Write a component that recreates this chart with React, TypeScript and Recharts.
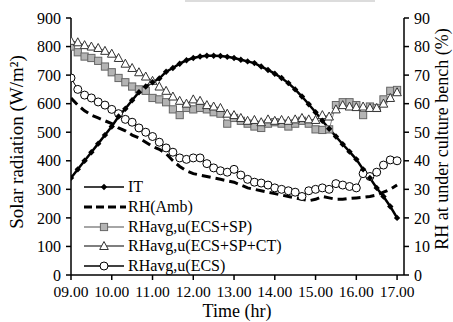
import React from 'react'
import { LineChart, Line, XAxis, YAxis } from 'recharts'

// sampling times (10 min)
const TIMES = [
  '09:00', '09:10', '09:20', '09:30', '09:40', '09:50',
  '10:00', '10:10', '10:20', '10:30', '10:40', '10:50',
  '11:00', '11:10', '11:20', '11:30', '11:40', '11:50',
  '12:00', '12:10', '12:20', '12:30', '12:40', '12:50',
  '13:00', '13:10', '13:20', '13:30', '13:40', '13:50',
  '14:00', '14:10', '14:20', '14:30', '14:40', '14:50',
  '15:00', '15:10', '15:20', '15:30', '15:40', '15:50',
  '16:00', '16:10', '16:20', '16:30', '16:40', '16:50',
  '17:00'
]

// solar radiation, W/m2
const IT = [
  340, 370, 400, 430, 460, 490, 520, 555, 582, 612, 640, 660,
  675, 688, 712, 725, 740, 752, 760, 765, 768, 768, 767, 764,
  760, 754, 748, 742, 730, 718, 705, 690, 672, 650, 625, 598,
  570, 540, 512, 485, 458, 432, 405, 370, 340, 305, 275, 240,
  200
]

// RH, %
const RH_AMB = [
  62, 59.5, 57.5, 56, 55, 54, 53, 51.5, 50.5, 49, 48, 46.5,
  45, 44, 42.5, 40, 38, 36.5, 35.5, 35, 34.5, 34, 33.5, 33,
  32.5, 31.5, 30.5, 30, 29.5, 29, 28.5, 28, 27.5, 27, 26.5, 26,
  26.5, 27.5, 27, 26.5, 26.5, 26.8, 27, 27.2, 27.5, 28, 29, 30,
  31.5
]

const RH_ECS_SP = [
  80, 78, 76.5, 76, 75, 73, 71, 69, 67.5, 66, 65, 64.5,
  62, 61.5, 60.5, 58, 56, 58.5, 58, 58.5, 58, 57, 56.5, 53,
  55, 54, 53, 52, 51.5, 53, 53.5, 53, 52, 53, 54, 53,
  51, 50.8, 51, 59.5, 60.5, 60.5, 59.5, 56, 59, 58.5, 61.5, 64.5,
  64.8
]

const RH_ECS_SP_CT = [
  82, 81.5, 80.5, 80, 79.5, 78.5, 77.5, 76, 74, 72.5, 71, 69.5,
  68, 66, 64.5, 62.5, 61, 60, 61.5, 61, 59.5, 59, 58.5, 56.5,
  56, 55, 54, 54.3, 53.5, 54.5, 54, 54.3, 54, 54.5, 55, 54.5,
  54.3, 56, 55.5, 58, 59.5, 59, 58.8, 59, 58.5, 58.5, 60, 62,
  64
]

const RH_ECS = [
  69, 65, 63, 62, 60.6, 59.5, 58, 56.5, 54.5, 53.5, 51.5, 50,
  48.5, 46.5, 44.5, 43, 41, 40.5, 41, 41, 39, 37.5, 36.5, 36,
  37, 35, 33.5, 32.5, 32.2, 31.5, 30.5, 30, 29.5, 29, 27.5, 29.5,
  30, 30.5, 30, 32, 31.5, 31, 30.5, 35.5, 34.5, 36, 38.5, 40.3,
  40
]

const X_TICKS = [9, 10, 11, 12, 13, 14, 15, 16, 17]
const LEFT_TICKS = [0, 100, 200, 300, 400, 500, 600, 700, 800, 900]
const RIGHT_TICKS = [0, 10, 20, 30, 40, 50, 60, 70, 80, 90]

const SERIF = '"Liberation Serif", "Times New Roman", serif'

const data = TIMES.map((s, i) => {
  const [h, m] = s.split(':').map(Number)
  return {
    t: h + m / 60,
    it: IT[i],
    amb: RH_AMB[i],
    sp: RH_ECS_SP[i],
    spct: RH_ECS_SP_CT[i],
    ecs: RH_ECS[i],
  }
})

const Diamond = (p: any) => {
  const { cx, cy, index } = p
  if (cx == null || cy == null) return <g key={index} />
  return <path key={index} d={`M${cx},${cy - 3.2}L${cx + 3.2},${cy}L${cx},${cy + 3.2}L${cx - 3.2},${cy}Z`} fill="#000" />
}

const Square = (p: any) => {
  const { cx, cy, index } = p
  if (cx == null || cy == null) return <g key={index} />
  return <rect key={index} x={cx - 3.6} y={cy - 3.6} width={7.2} height={7.2} fill="#b4b4b4" stroke="#666" strokeWidth={1} />
}

const Triangle = (p: any) => {
  const { cx, cy, index } = p
  if (cx == null || cy == null) return <g key={index} />
  return <path key={index} d={`M${cx},${cy - 4.5}L${cx + 4.3},${cy + 3.5}L${cx - 4.3},${cy + 3.5}Z`} fill="#fff" stroke="#333" strokeWidth={1} />
}

const Circle = (p: any) => {
  const { cx, cy, index } = p
  if (cx == null || cy == null) return <g key={index} />
  return <circle key={index} cx={cx} cy={cy} r={4} fill="#fff" stroke="#000" strokeWidth={1} />
}

const LEGEND_ITEMS = [
  { name: 'IT', kind: 'diamond' },
  { name: 'RH(Amb)', kind: 'dash' },
  { name: 'RHavg,u(ECS+SP)', kind: 'square' },
  { name: 'RHavg,u(ECS+SP+CT)', kind: 'triangle' },
  { name: 'RHavg,u(ECS)', kind: 'circle' },
]

function LegendIcon({ kind }: { kind: string }) {
  const cx = 20, cy = 10
  let line = <line x1={0} y1={cy} x2={40} y2={cy} stroke="#555" strokeWidth={1.3} />
  let mark: any = null
  if (kind === 'diamond') {
    line = <line x1={0} y1={cy} x2={40} y2={cy} stroke="#000" strokeWidth={1.3} />
    mark = Diamond({ cx, cy, index: 0 })
  } else if (kind === 'dash') {
    line = <line x1={0} y1={cy} x2={42} y2={cy} stroke="#000" strokeWidth={3} strokeDasharray="8 4" />
  } else if (kind === 'square') {
    line = <line x1={0} y1={cy} x2={40} y2={cy} stroke="#888" strokeWidth={1.3} />
    mark = Square({ cx, cy, index: 0 })
  } else if (kind === 'triangle') {
    mark = Triangle({ cx, cy, index: 0 })
  } else {
    line = <line x1={0} y1={cy} x2={40} y2={cy} stroke="#000" strokeWidth={1.3} />
    mark = Circle({ cx, cy, index: 0 })
  }
  return (
    <svg width={42} height={20} style={{ display: 'block' }}>
      {line}
      {mark}
    </svg>
  )
}

const fmtTime = (v: number) => (v < 10 ? '0' : '') + v + '.00'

export default function App() {
  const yTick = { fill: '#000', fontFamily: SERIF, fontSize: 16 }
  const xTick = { fill: '#000', fontFamily: SERIF, fontSize: 15.5 }
  return (
    <div style={{ position: 'absolute', left: 0, top: 0, width: 453, height: 322, background: '#fff' }}>
      <div style={{ position: 'absolute', left: 185, top: 0, width: 190, height: 2, background: '#dcdcdc' }} />
      <LineChart width={453} height={322} data={data} margin={{ top: 18, right: 4, left: 11, bottom: 17 }}>
        <XAxis
          dataKey="t"
          type="number"
          domain={[9, 17.17]}
          ticks={X_TICKS}
          interval={0}
          tickFormatter={fmtTime}
          allowDataOverflow
          height={30}
          tick={xTick}
          tickSize={5}
          tickMargin={6}
          axisLine={{ stroke: '#000', strokeWidth: 1.5 }}
          tickLine={{ stroke: '#000', strokeWidth: 1.5 }}
        />
        <YAxis
          yAxisId="left"
          domain={[0, 900]}
          ticks={LEFT_TICKS}
          interval={0}
          width={60}
          tick={yTick}
          tickSize={5}
          tickMargin={5}
          axisLine={{ stroke: '#000', strokeWidth: 1.5 }}
          tickLine={{ stroke: '#000', strokeWidth: 1.5 }}
        />
        <YAxis
          yAxisId="right"
          orientation="right"
          domain={[0, 90]}
          ticks={RIGHT_TICKS}
          interval={0}
          width={45}
          tick={yTick}
          tickSize={5}
          tickMargin={5}
          axisLine={{ stroke: '#000', strokeWidth: 1.5 }}
          tickLine={{ stroke: '#000', strokeWidth: 1.5 }}
        />
        <Line yAxisId="right" dataKey="sp" name="RHavg,u(ECS+SP)" stroke="#888" strokeWidth={1} dot={Square} isAnimationActive={false} />
        <Line yAxisId="right" dataKey="spct" name="RHavg,u(ECS+SP+CT)" stroke="#555" strokeWidth={1} dot={Triangle} isAnimationActive={false} />
        <Line yAxisId="right" dataKey="ecs" name="RHavg,u(ECS)" stroke="#000" strokeWidth={1} dot={Circle} isAnimationActive={false} />
        <Line yAxisId="right" dataKey="amb" name="RH(Amb)" stroke="#000" strokeWidth={3} strokeDasharray="9 5" dot={false} isAnimationActive={false} />
        <Line yAxisId="left" dataKey="it" name="IT" stroke="#000" strokeWidth={2.5} dot={Diamond} isAnimationActive={false} />
      </LineChart>
      <div style={{ position: 'absolute', left: 84, top: 177, fontFamily: SERIF, fontSize: 16, color: '#000' }}>
        {LEGEND_ITEMS.map(it => (
          <div key={it.name} style={{ display: 'flex', alignItems: 'center', height: 19.8 }}>
            <LegendIcon kind={it.kind} />
            <span style={{ marginLeft: 2, lineHeight: '20px', whiteSpace: 'nowrap' }}>{it.name}</span>
          </div>
        ))}
      </div>
      <div style={{ position: 'absolute', left: 17, top: 142, transform: 'translate(-50%, -50%) rotate(-90deg)', whiteSpace: 'nowrap', fontFamily: SERIF, fontSize: 19 }}>
        Solar radiation (W/m²)
      </div>
      <div style={{ position: 'absolute', left: 442, top: 139, transform: 'translate(-50%, -50%) rotate(-90deg)', whiteSpace: 'nowrap', fontFamily: SERIF, fontSize: 18 }}>
        RH at under culture bench (%)
      </div>
      <div style={{ position: 'absolute', left: 237, top: 311, transform: 'translate(-50%, -50%)', whiteSpace: 'nowrap', fontFamily: SERIF, fontSize: 18, lineHeight: '20px' }}>
        Time (hr)
      </div>
    </div>
  )
}
